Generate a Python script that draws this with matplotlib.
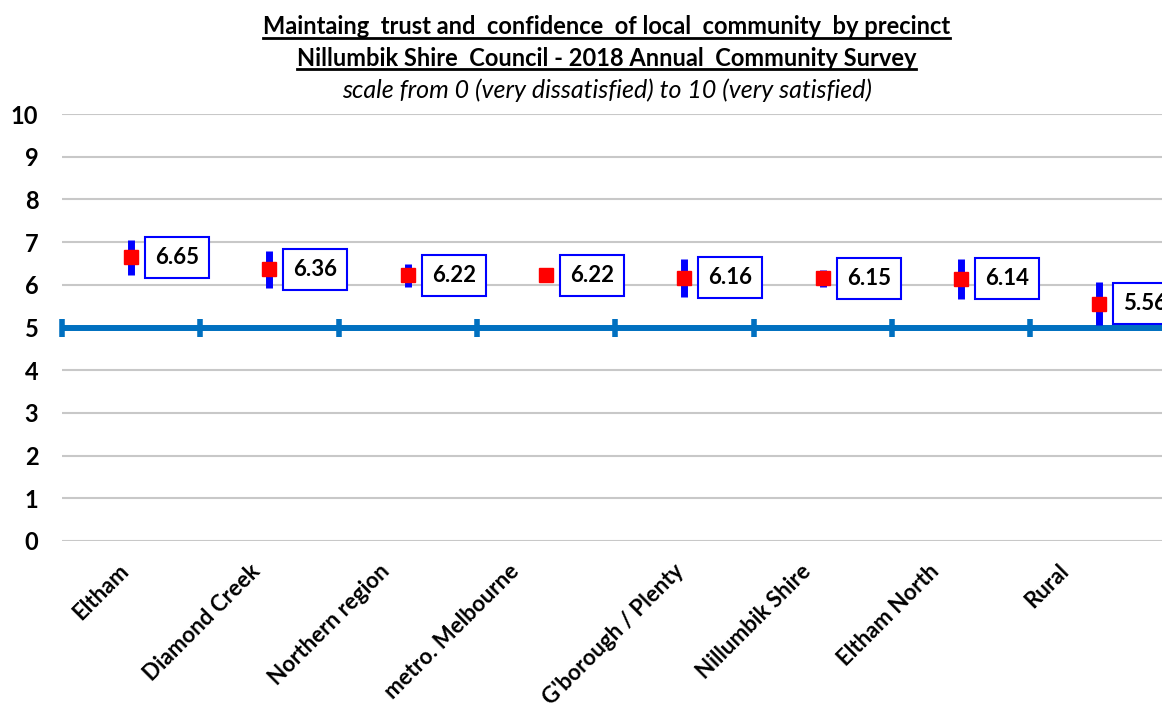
import matplotlib
matplotlib.use("Agg")
import matplotlib.pyplot as plt
import matplotlib.transforms as mtransforms
from matplotlib.lines import Line2D
import numpy as np

categories = ["Eltham", "Diamond Creek", "Northern region", "metro. Melbourne",
              "G'borough / Plenty", "Nillumbik Shire", "Eltham North", "Rural"]
means = [6.65, 6.36, 6.22, 6.22, 6.16, 6.15, 6.14, 5.56]
ci_half = [0.41, 0.43, 0.27, 0.05, 0.44, 0.19, 0.47, 0.50]
labels = ["6.65", "6.36", "6.22", "6.22", "6.16", "6.15", "6.14", "5.56"]
threshold = 5
yticks = list(range(0, 11))

# horizontal nudges (pixels) of the rotated category labels, as in the reference layout
label_nudge_px = [-13, -20, -29, -38, -11, -22, -33, -41]

plt.rcParams['font.family'] = ['Lato', 'DejaVu Sans']

fig = plt.figure(figsize=(11.62, 7.2), dpi=100)
ax = fig.add_axes([62/1162, 179/720, 8*138.3/1162, 427/720])
x = np.arange(len(categories))

ax.set_xlim(-0.5, len(categories) - 0.5)
ax.set_ylim(0, 10)
ax.set_yticks(yticks)
ax.set_yticklabels([str(v) for v in yticks], fontsize=17, fontweight='bold')
ax.yaxis.grid(True, color='#C8C8C8', linewidth=1.5)
ax.set_axisbelow(True)
ax.tick_params(axis='y', length=0, pad=17)
ax.tick_params(axis='x', length=0, pad=14)
for s in ax.spines.values():
    s.set_visible(False)

ax.set_xticks(x)
ax.set_xticklabels(categories, rotation=45, ha='right', rotation_mode='anchor',
                   fontsize=16, fontweight='bold')
for lab, dx in zip(ax.get_xticklabels(), label_nudge_px):
    shift = mtransforms.ScaledTranslation(dx / 100, 0, fig.dpi_scale_trans)
    lab.set_transform(lab.get_transform() + shift)

# threshold line with boundary ticks
bounds = np.arange(len(categories) + 1) - 0.5
ax.plot([bounds[0], bounds[-1]], [threshold, threshold], color='#0070C0', lw=4.3, zorder=2,
        solid_capstyle='butt', clip_on=False)
ax.plot(bounds, [threshold] * len(bounds), linestyle='none', marker='|', markersize=13,
        mew=4, color='#0070C0', zorder=2, clip_on=False)

ax.errorbar(x, means, yerr=ci_half, fmt='none', ecolor='#0000FF', elinewidth=5,
            capsize=0, zorder=3)
ax.plot(x, means, linestyle='none', marker='s', markersize=10, color='#FF0000',
        markeredgecolor='#FF0000', zorder=4)

for xi, m, lab in zip(x, means, labels):
    ax.annotate(lab, (xi, m), xytext=(24, 0), textcoords='offset pixels',
                ha='left', va='center', fontsize=16, fontweight='bold',
                bbox=dict(boxstyle='square,pad=0.45', fc='white', ec='#0000FF', lw=1.5),
                zorder=5, annotation_clip=False)

t1 = fig.text(0.522, 1 - 27/720, "Maintaing  trust and  confidence  of local  community  by precinct",
              ha='center', va='center', fontsize=17, fontweight='bold')
t2 = fig.text(0.522, 1 - 58/720, "Nillumbik Shire  Council - 2018 Annual  Community Survey",
              ha='center', va='center', fontsize=17, fontweight='bold')
t3 = fig.text(0.522, 1 - 90/720, "scale from 0 (very dissatisfied) to 10 (very satisfied)",
              ha='center', va='center', fontsize=18, fontstyle='italic')

fig.canvas.draw()
r = fig.canvas.get_renderer()
for t in (t1, t2):
    bb = t.get_window_extent(renderer=r).transformed(fig.transFigure.inverted())
    yline = bb.y0 + 0.001
    fig.add_artist(Line2D([bb.x0, bb.x1], [yline, yline], color='black', lw=2,
                          transform=fig.transFigure))

fig.savefig("out.png", dpi=100)
